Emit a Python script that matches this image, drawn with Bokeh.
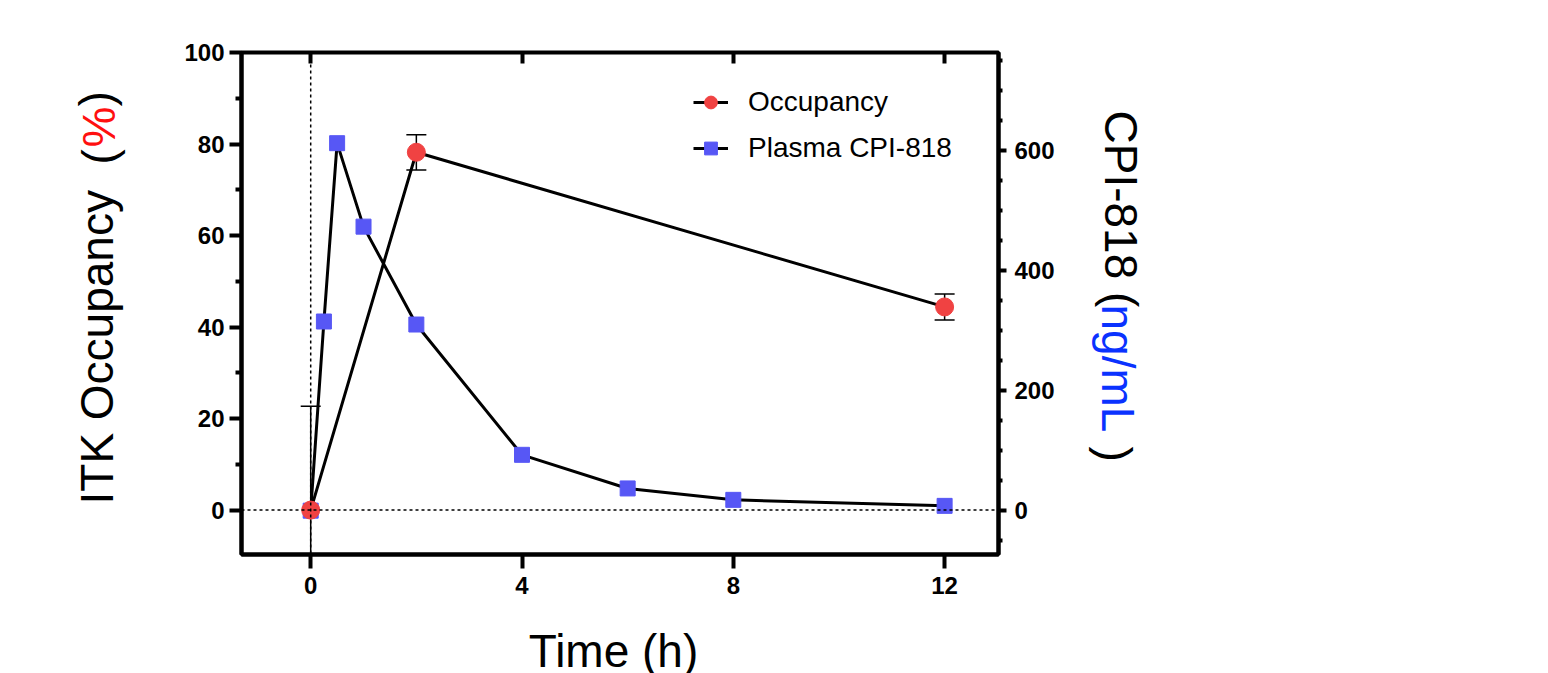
from bokeh.plotting import figure
from bokeh.models import (Range1d, LinearAxis, FixedTicker, Span, Label, Legend, LegendItem,
                          ColumnDataSource)
from bokeh.embed import file_html
from bokeh.resources import INLINE
import math

# ---- data ----
time_occ = [0, 2, 12]
occupancy = [0, 78.2, 44.4]
occ_err = [22.7, 3.85, 2.85]

time_pk = [0, 0.25, 0.5, 1, 2, 4, 6, 8, 12]
plasma = [0, 315, 612, 473, 310, 93, 37, 18, 8]

x_ticks = [0, 4, 8, 12]
left_ticks = [0, 20, 40, 60, 80, 100]
left_minor = [10, 30, 50, 70, 90]
right_ticks = [0, 200, 400, 600]
right_minor = [-50, 50, 100, 150, 250, 300, 350, 450, 500, 550, 650, 700, 750]

RED = "#F04242"
BLUE = "#5757F5"
FONT = "Liberation Sans"

p = figure(width=1540, height=673, output_backend="svg", toolbar_location=None,
           x_range=Range1d(-1.31, 13.02), y_range=Range1d(-9.7, 100),
           min_border_left=241, min_border_right=542, min_border_top=52, min_border_bottom=119)
p.extra_y_ranges = {"right": Range1d(-73, 763)}
p.grid.visible = False
p.outline_line_color = "black"
p.outline_line_width = 4
p.background_fill_color = "white"
p.border_fill_color = "white"

def style_axis(ax, tick_out, minor_out, standoff):
    ax.axis_line_width = 4
    ax.axis_line_color = "black"
    ax.major_tick_line_width = 4
    ax.minor_tick_line_width = 4
    ax.major_tick_in = 0
    ax.minor_tick_in = 0
    ax.major_tick_out = tick_out
    ax.minor_tick_out = minor_out
    ax.major_label_standoff = standoff
    ax.major_label_text_font = FONT
    ax.major_label_text_font_style = "bold"
    ax.major_label_text_font_size = "24px"
    ax.major_label_text_color = "black"

xa = p.xaxis[0]
xa.ticker = FixedTicker(ticks=x_ticks, minor_ticks=[])
style_axis(xa, 14, 0, 8)

ya = p.yaxis[0]
ya.ticker = FixedTicker(ticks=left_ticks, minor_ticks=left_minor)
style_axis(ya, 12, 6, 5)

ra = LinearAxis(y_range_name="right", ticker=FixedTicker(ticks=right_ticks, minor_ticks=right_minor))
style_axis(ra, 8, 4, 8)
p.add_layout(ra, "right")

ta = LinearAxis(ticker=FixedTicker(ticks=x_ticks, minor_ticks=[]))
ta.axis_line_color = None
ta.major_tick_line_width = 4
ta.major_tick_in = 11
ta.major_tick_out = 0
ta.major_label_text_font_size = "1px"
ta.major_label_text_alpha = 0
ta.major_label_standoff = 0
p.add_layout(ta, "above")

# dotted reference lines
p.add_layout(Span(location=0, dimension="height", line_color="black", line_width=1.5, line_dash="3 3"))
p.add_layout(Span(location=0, dimension="width", line_color="black", line_width=1.5, line_dash="3 3"))

# plasma line
pk_src = ColumnDataSource(dict(t=time_pk, c=plasma))
pk_line = p.line("t", "c", source=pk_src, y_range_name="right", line_color="black", line_width=3)

# occupancy line
occ_src = ColumnDataSource(dict(t=time_occ, o=occupancy,
                                lo=[o - e for o, e in zip(occupancy, occ_err)],
                                hi=[o + e for o, e in zip(occupancy, occ_err)]))
occ_line = p.line("t", "o", source=occ_src, line_color="black", line_width=3)

# error bars
p.segment(x0="t", y0="lo", x1="t", y1="hi", source=occ_src, line_color="black", line_width=1.5)
p.scatter("t", "hi", source=occ_src, marker="dash", size=20, line_color="black", line_width=1.5)
p.scatter("t", "lo", source=occ_src, marker="dash", size=20, line_color="black", line_width=1.5)

pk_mark = p.scatter("t", "c", source=pk_src, y_range_name="right", marker="square", size=15,
                    fill_color=BLUE, line_color=BLUE)
occ_mark = p.scatter("t", "o", source=occ_src, marker="circle", size=18,
                     fill_color=RED, line_color=RED)

legend = Legend(items=[LegendItem(label="Occupancy", renderers=[occ_line, occ_mark]),
                       LegendItem(label="Plasma CPI-818", renderers=[pk_line, pk_mark])],
                location=(452, 390), padding=0, margin=0, spacing=14,
                glyph_width=35, glyph_height=32, label_height=32, label_standoff=20,
                label_text_font=FONT, label_text_font_size="28px", label_text_color="black",
                border_line_alpha=0, background_fill_alpha=0)
p.add_layout(legend)

# axis titles (multi-coloured) as labels placed in side panels (offsets relative to each panel)
def lab(side, text, x, y, angle, color, align="left"):
    p.add_layout(Label(x=x, y=y, x_units="screen", y_units="screen", text=text, angle=angle,
                       text_font=FONT, text_font_size="46px", text_color=color,
                       text_align=align, text_baseline="alphabetic"), side)

lab("left", "ITK Occupancy", -33, 50, math.pi / 2, "black")
lab("left", "%", 21, 407, math.pi / 2, "#FF1010")

lab("right", "CPI-818 (", 63, 444, -math.pi / 2, "black")
lab("right", "ng/mL", 8, 250, -math.pi / 2, "#0A32FF")
lab("right", ")", -47, 108, -math.pi / 2, "black")
lab("right", "(", -1115, 390, math.pi / 2, "black")
lab("right", ")", -1170, 448, math.pi / 2, "black")

lab("below", "Time (h)", 372, -2, 0, "black", align="center")

open("out.html", "w").write(file_html(p, INLINE))
